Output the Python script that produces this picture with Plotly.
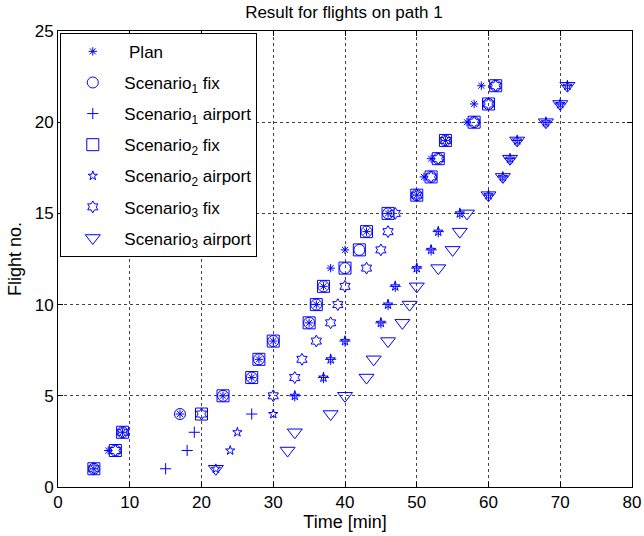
import plotly.graph_objects as go

flights = list(range(1, 23))
plan = [5, 7, 9, 17, 23, 27, 28, 30, 35, 36, 37, 38, 40, 43, 46, 50, 51, 52, 54, 57, 58, 59]
s1_fix = [5, 8, 9, 17, 23, 27, 28, 30, 35, 36, 37, 40, 42, 43, 46, 50, 52, 53, 54, 58, 60, 61]
s1_airport = [15, 18, 19, 27, 33, 37, 38, 40, 45, 46, 47, 50, 52, 53, 56, 60, 62, 63, 64, 68, 70, 71]
s2_fix = [5, 8, 9, 20, 23, 27, 28, 30, 35, 36, 37, 40, 42, 43, 46, 50, 52, 53, 54, 58, 60, 61]
s2_airport = [22, 24, 25, 30, 33, 37, 38, 40, 45, 46, 47, 50, 52, 53, 56, 60, 62, 63, 64, 68, 70, 71]
s3_fix = [5, 8, 9, 20, 30, 33, 34, 36, 38, 39, 40, 43, 45, 46, 47, 50, 52, 53, 54, 58, 60, 61]
s3_airport = [22, 32, 33, 38, 40, 43, 44, 46, 48, 49, 50, 53, 55, 56, 57, 60, 62, 63, 64, 68, 70, 71]

names = ["\u00a0Plan", "Scenario<sub>1</sub> fix", "Scenario<sub>1</sub> airport",
         "Scenario<sub>2</sub> fix", "Scenario<sub>2</sub> airport",
         "Scenario<sub>3</sub> fix", "Scenario<sub>3</sub> airport"]
series = [plan, s1_fix, s1_airport, s2_fix, s2_airport, s3_fix, s3_airport]
symbols = ["asterisk-open", "circle-open", "cross-thin-open", "square-open",
           "star-open", "hexagram-open", "triangle-down-open"]
sizes = [7, 11, 8, 12, 7, 9, 13]

BLUE = "#0000ff"
fig = go.Figure()
for i, (nm, vals, sym, sz) in enumerate(zip(names, series, symbols, sizes)):
    fig.add_trace(go.Scatter(
        x=vals, y=flights, mode="markers", name=nm, legendgroup=f"g{i}",
        marker=dict(symbol=sym, size=sz, color=BLUE, line=dict(color=BLUE, width=1)),
    ))

FONT = "Liberation Sans, Arial, Helvetica, sans-serif"
axis_common = dict(
    showline=True, linecolor="black", linewidth=1, mirror="ticks",
    ticks="inside", ticklen=5, tickcolor="black",
    showgrid=True, gridcolor="#444444", griddash="dot", gridwidth=1,
    zeroline=False, automargin=False,
    tickfont=dict(family=FONT, size=17, color="black"),
)
fig.update_layout(
    width=644, height=536,
    margin=dict(l=58, r=12, t=31, b=49),
    paper_bgcolor="white", plot_bgcolor="white",
    font=dict(family=FONT, color="black"),
    title=dict(text="Result for flights on path 1", x=0.534, xanchor="center",
               y=1 - 12 / 536, yanchor="middle", yref="container",
               font=dict(family=FONT, size=17, color="black")),
    xaxis=dict(range=[0, 80], dtick=10, title=dict(text="Time [min]", standoff=2,
               font=dict(family=FONT, size=18)), **axis_common),
    yaxis=dict(range=[0, 25], dtick=5, title=dict(text="Flight no.", standoff=8,
               font=dict(family=FONT, size=18)), **axis_common),
    legend=dict(x=0.004, y=0.996, xanchor="left", yanchor="top",
                bgcolor="white", bordercolor="black", borderwidth=1,
                font=dict(family=FONT, size=17, color="black"),
                tracegroupgap=6, itemwidth=53),
    showlegend=True,
)
fig.write_html("out.html")
